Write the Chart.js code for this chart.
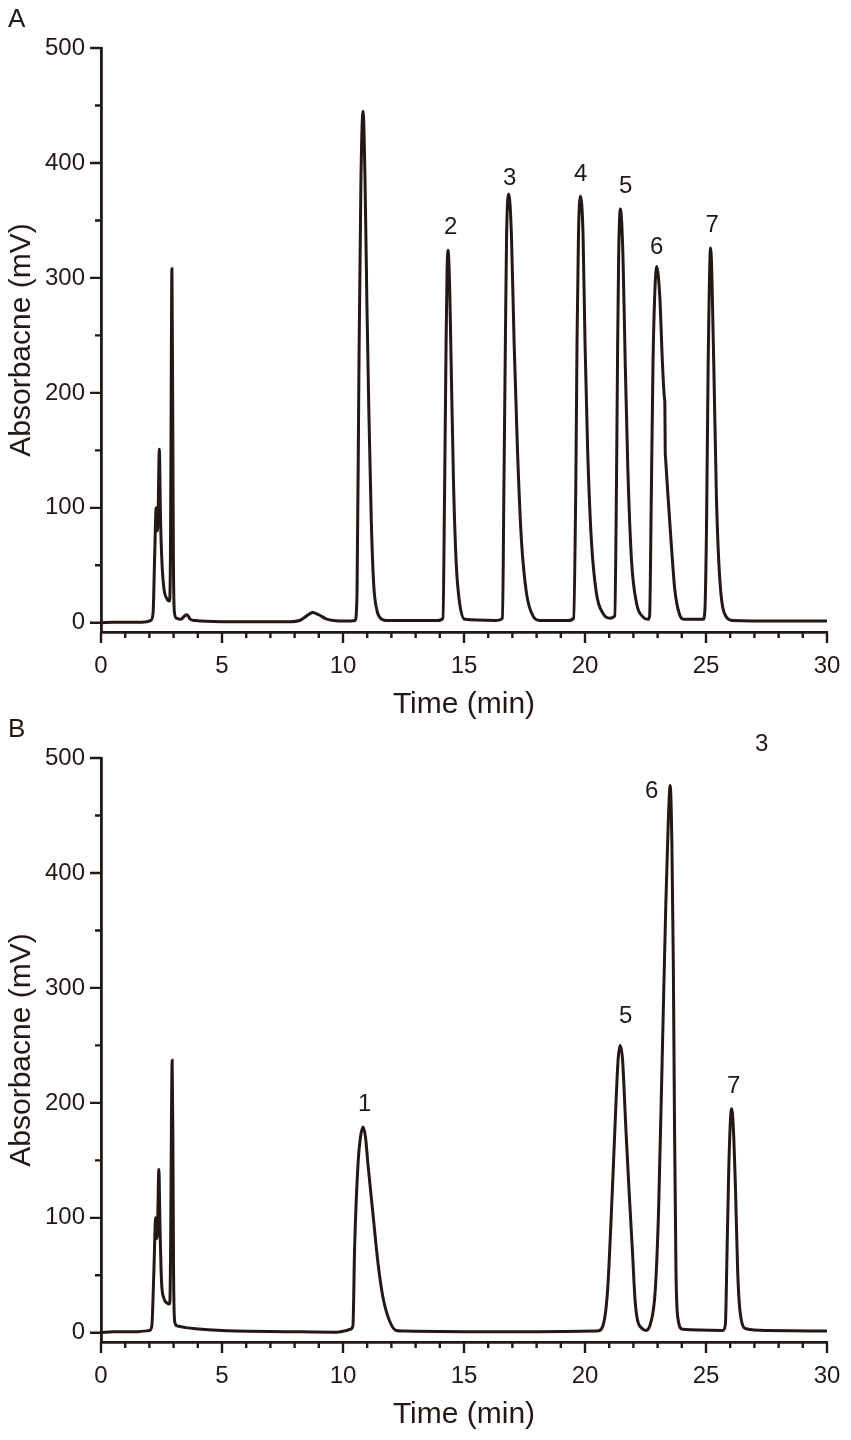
<!DOCTYPE html>
<html>
<head>
<meta charset="utf-8">
<script src="https://cdn.jsdelivr.net/npm/chart.js@4.4.1/dist/chart.umd.min.js"></script>
<style>
  html, body { margin: 0; padding: 0; background: #ffffff; }
  #wrap { position: relative; width: 851px; height: 1440px; overflow: hidden; }
  .panel { position: absolute; left: 0; width: 851px; height: 730px; }
</style>
</head>
<body>
<div id="wrap">
  <div class="panel" style="top:0px"><canvas id="chartA"></canvas></div>
  <div class="panel" style="top:710px"><canvas id="chartB"></canvas></div>
</div>
<script>
// ---------------- DATA ----------------
const xMajorTicks = [0, 5, 10, 15, 20, 25, 30];
const xMinorTicks = [1, 2, 3, 4, 6, 7, 8, 9, 11, 12, 13, 14, 16, 17, 18, 19, 21, 22, 23, 24, 26, 27, 28, 29];
const yMajorTicks = [0, 100, 200, 300, 400, 500];
const yMinorTicks = [50, 150, 250, 350, 450];

// Panel A chromatogram (time in min, absorbance in mV)
const timeA = [0, 0.5, 1.0, 1.5, 1.9, 2.05, 2.15, 2.22, 2.28, 2.33, 2.36, 2.41, 2.46, 2.52, 2.6, 2.72, 2.83,
  2.87, 2.9, 2.93, 2.96, 2.99, 3.03, 3.12, 3.3, 3.45, 3.55, 3.7, 3.9, 5.0, 6.5, 7.8, 8.2, 8.5, 8.75, 9.0, 9.3,
  9.6, 10.2, 10.5, 10.58, 10.66, 10.74, 10.83, 10.91, 10.99, 11.07, 11.17, 11.27, 11.4, 11.55, 11.8,
  13.9, 14.13, 14.2, 14.26, 14.3, 14.34, 14.41, 14.48, 14.57, 14.68, 14.82, 15.03,
  16.3, 16.59, 16.65, 16.71, 16.76, 16.85, 16.96, 17.07, 17.21, 17.37, 17.58, 17.85, 18.13,
  19.3, 19.53, 19.62, 19.67, 19.73, 19.81, 19.92, 20.0, 20.11, 20.26, 20.47, 20.75, 21.02,
  21.23, 21.3, 21.35, 21.39, 21.46, 21.57, 21.66, 21.77, 21.92, 22.13, 22.4, 22.6,
  22.67, 22.74, 22.81, 22.88, 22.96, 23.09, 23.2, 23.28, 23.3, 23.315, 23.33, 23.43, 23.57, 23.71, 23.91, 24.1,
  24.88, 24.95, 25.02, 25.09, 25.19, 25.32, 25.43, 25.57, 25.84, 26.1, 28, 30];
const absA = [0, 0.5, 0.5, 0.5, 1, 2, 8, 60, 100, 80, 95, 151, 90, 52, 30, 21, 19,
  60, 200, 308, 200, 60, 10, 4, 3, 6, 7, 3, 2, 1, 1, 1, 2, 6, 9, 7, 3.5,
  2, 1.5, 2, 26, 225, 383, 445, 385, 275, 182, 88, 33, 11, 4, 2,
  2, 4, 119, 244, 306, 324, 290, 213, 119, 51, 17, 3,
  2, 4, 119, 244, 337, 373, 337, 244, 150, 73, 26, 6, 2,
  2, 4, 119, 244, 337, 371, 337, 244, 150, 73, 26, 8, 4,
  6, 119, 244, 318, 360, 318, 228, 134, 55, 17, 5, 3,
  6, 110, 226, 284, 310, 284, 226, 196, 190, 150, 143, 110, 67, 29, 7, 3,
  3, 9, 81, 226, 326, 226, 110, 38, 5, 2, 1.5, 1.5];

// Panel B chromatogram
const timeB = [0, 0.5, 1.5, 2.0, 2.1, 2.18, 2.26, 2.31, 2.34, 2.39, 2.44, 2.5, 2.6, 2.72, 2.84,
  2.88, 2.91, 2.94, 2.97, 3.0, 3.05, 3.15, 3.5, 3.9, 5.0, 7.8, 9.75, 10.15,
  10.3, 10.41, 10.48, 10.62, 10.72, 10.83, 10.93, 11.03, 11.24, 11.45, 11.65, 11.93, 12.2, 12.5, 15, 18,
  20.5, 20.72, 20.93, 21.13, 21.27, 21.37, 21.45, 21.55, 21.69, 21.82, 21.96, 22.07, 22.17, 22.35, 22.51,
  22.72, 22.9, 23.04, 23.2, 23.34, 23.44, 23.52, 23.59, 23.65, 23.7, 23.76, 23.83, 24.03,
  25.69, 25.8, 25.87, 25.94, 26.01, 26.06, 26.13, 26.22, 26.31, 26.41, 26.66, 27.49, 30];
const absB = [0, 1, 1, 2, 6, 50, 100, 82, 95, 142, 90, 45, 30, 26, 25,
  80, 180, 237, 170, 50, 9, 6, 4.5, 3.5, 2, 1, 0.5, 2,
  3, 6, 74, 147, 170, 179, 170, 147, 103, 60, 31, 10, 2, 1.5, 1, 1,
  1.5, 5, 36, 124, 195, 238, 250, 238, 177, 124, 71, 28, 11, 4, 2,
  9, 36, 106, 248, 373, 444, 476, 426, 320, 178, 53, 14, 3,
  2, 7, 71, 142, 185, 195, 178, 124, 53, 18, 3.5, 2, 1.5];

// Peak labels (text, anchored at time / absorbance)
const peakTextA = ['2', '3', '4', '5', '6', '7'];
const peakTimeA = [14.45, 16.89, 19.82, 21.68, 22.96, 25.26];
const peakValA  = [344, 387, 390, 380, 327, 346];

const peakTextB = ['1', '5', '6', '7', '3'];
const peakTimeB = [10.9, 21.68, 22.75, 26.14, 27.3];
const peakValB  = [199, 275, 471, 214, 512];

const xTitle = 'Time (min)';
const yTitle = 'Absorbacne (mV)';

// ---------------- STYLE / RENDER ----------------
const INK = '#231815';
const FONT = "'Liberation Sans', Arial, Helvetica, sans-serif";
Chart.defaults.font.family = FONT;
Chart.defaults.color = INK;

const ticksPlugin = {
  id: 'customTicks',
  afterDraw(chart) {
    const { ctx, chartArea, scales } = chart;
    const x = scales.x, y = scales.y;
    ctx.save();
    ctx.strokeStyle = INK;
    ctx.lineWidth = 2.4;
    ctx.beginPath();
    xMajorTicks.forEach(v => { const p = x.getPixelForValue(v); ctx.moveTo(p, chartArea.bottom); ctx.lineTo(p, chartArea.bottom + 11); });
    xMinorTicks.forEach(v => { const p = x.getPixelForValue(v); ctx.moveTo(p, chartArea.bottom); ctx.lineTo(p, chartArea.bottom + 6); });
    yMajorTicks.forEach(v => { const p = y.getPixelForValue(v); ctx.moveTo(chartArea.left, p); ctx.lineTo(chartArea.left - 11, p); });
    yMinorTicks.forEach(v => { const p = y.getPixelForValue(v); ctx.moveTo(chartArea.left, p); ctx.lineTo(chartArea.left - 6, p); });
    ctx.stroke();
    ctx.restore();
  }
};

const labelsPlugin = {
  id: 'peakLabels',
  afterDraw(chart) {
    const o = chart.options.plugins.peakLabels;
    const { ctx, scales } = chart;
    ctx.save();
    ctx.fillStyle = INK;
    ctx.font = '24px ' + FONT;
    ctx.textAlign = 'center';
    ctx.textBaseline = 'middle';
    o.texts.forEach((t, i) => {
      ctx.fillText(t, scales.x.getPixelForValue(o.times[i]), scales.y.getPixelForValue(o.vals[i]));
    });
    ctx.font = '26px ' + FONT;
    ctx.textAlign = 'left';
    ctx.fillText(o.panel, 8, 20);
    ctx.restore();
  }
};

function makeChart(id, times, vals, panel, pTexts, pTimes, pVals) {
  const pts = times.map((t, i) => ({ x: t, y: vals[i] }));
  return new Chart(document.getElementById(id), {
    type: 'line',
    data: { datasets: [{ data: pts, borderColor: INK, borderWidth: 3, pointRadius: 0,
      cubicInterpolationMode: 'monotone', fill: false }] },
    options: {
      responsive: true, maintainAspectRatio: false, animation: false,
      layout: { padding: { left: 0, right: 24, top: 48, bottom: 0 } },
      plugins: { legend: { display: false }, tooltip: { enabled: false },
        peakLabels: { texts: pTexts, times: pTimes, vals: pVals, panel: panel } },
      scales: {
        x: {
          type: 'linear', min: 0, max: 30,
          afterBuildTicks: s => { s.ticks = xMajorTicks.map(v => ({ value: v })); },
          afterFit: s => { s.height = 98; s.paddingRight = 0; s.paddingLeft = 0; },
          ticks: { autoSkip: false, maxRotation: 0, padding: 20, color: INK,
            font: { size: 24 }, callback: v => String(v) },
          grid: { display: false, drawTicks: false },
          border: { display: true, color: INK, width: 2.8 },
          title: { display: true, text: xTitle, color: INK, font: { size: 30 },
            padding: { top: 0, bottom: 7 } }
        },
        y: {
          type: 'linear', min: -8, max: 500,
          afterBuildTicks: s => { s.ticks = yMajorTicks.map(v => ({ value: v })); },
          afterFit: s => { s.width = 101; s.paddingTop = 0; s.paddingBottom = 0; },
          ticks: { autoSkip: false, padding: 16, color: INK, font: { size: 24 }, callback: v => String(v) },
          grid: { display: false, drawTicks: false },
          border: { display: true, color: INK, width: 2.8 },
          title: { display: true, text: yTitle, color: INK, font: { size: 30 },
            padding: { top: 4, bottom: 0 } }
        }
      }
    },
    plugins: [ticksPlugin, labelsPlugin]
  });
}

makeChart('chartA', timeA, absA, 'A', peakTextA, peakTimeA, peakValA);
makeChart('chartB', timeB, absB, 'B', peakTextB, peakTimeB, peakValB);
</script>
</body>
</html>
